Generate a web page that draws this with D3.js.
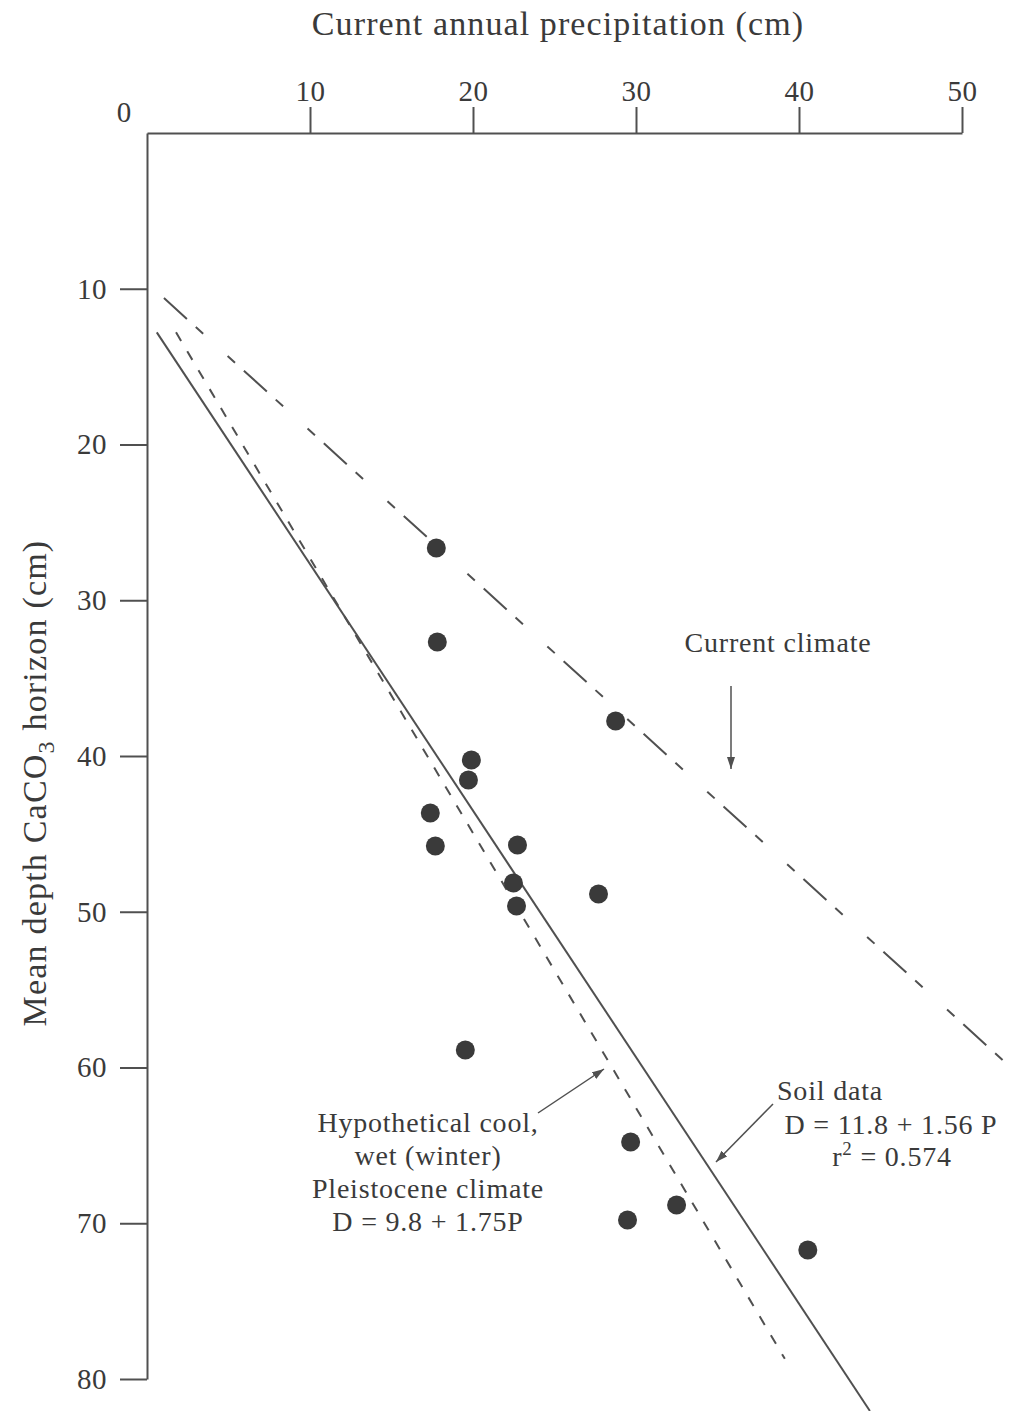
<!DOCTYPE html>
<html>
<head>
<meta charset="utf-8">
<script src="https://cdn.jsdelivr.net/npm/d3@7"></script>
<style>
  body { margin: 0; background: #fff; }
  svg text { font-family: "Liberation Serif", "DejaVu Serif", serif; fill: #3a3a3a; }
  .note { font-size: 28px; letter-spacing: 0.8px; }
</style>
</head>
<body>
<div id="chart"></div>
<script>
// soil sites: annual precipitation (cm) vs mean depth of CaCO3 horizon (cm)
const precip = [17.75, 17.81, 28.75, 19.9, 19.72, 17.38, 17.69, 22.73, 22.48, 22.67, 27.7, 19.53, 29.67, 29.48, 32.49, 40.54];
const depth  = [26.65, 32.68, 37.75, 40.26, 41.54, 43.66, 45.78, 45.71, 48.15, 49.63, 48.86, 58.88, 64.78, 69.79, 68.83, 71.72];

// fitted lines, endpoints [P, D]
const soilLine = [[0.6, 12.8], [44.35, 82.05]];
const pleistoLine = [[1.78, 12.8], [39.13, 78.7]];
const currentLine = [[1.04, 10.6], [53.44, 60.42]];

const xTicks = [10, 20, 30, 40, 50];
const yTicks = [10, 20, 30, 40, 50, 60, 70, 80];

const width = 1019, height = 1411;
const ink = '#3a3a3a', lineInk = '#505050';

const svg = d3.select('#chart').append('svg')
  .attr('width', width)
  .attr('height', height);

const x = d3.scaleLinear().domain([0, 50]).range([147, 962]);
const y = d3.scaleLinear().domain([0, 80]).range([133, 1379]);

svg.append('defs').append('marker')
  .attr('id', 'arrow')
  .attr('viewBox', '0 0 12 8')
  .attr('refX', 12).attr('refY', 4)
  .attr('markerWidth', 12).attr('markerHeight', 8)
  .attr('markerUnits', 'userSpaceOnUse')
  .attr('orient', 'auto')
  .append('path')
  .attr('d', 'M0,0 L12,4 L0,8 Z')
  .attr('fill', lineInk);

// axes
const xAxis = svg.append('g')
  .attr('transform', `translate(0,${y(0)})`)
  .call(d3.axisTop(x).tickValues(xTicks).tickSize(26).tickSizeOuter(0).tickPadding(6));

const yAxis = svg.append('g')
  .attr('transform', `translate(${x(0)},0)`)
  .call(d3.axisLeft(y).tickValues(yTicks).tickSize(27).tickSizeOuter(0).tickPadding(13));

[xAxis, yAxis].forEach(a => {
  a.selectAll('path, line').attr('stroke', lineInk).attr('stroke-width', 2);
  a.selectAll('text')
    .attr('font-size', 29)
    .attr('letter-spacing', 0.5)
    .attr('font-family', '"Liberation Serif", serif')
    .attr('fill', ink);
});

svg.append('text')
  .attr('x', x(0) - 23).attr('y', 122)
  .attr('text-anchor', 'middle')
  .attr('font-size', 29)
  .text('0');

// axis titles
svg.append('text')
  .attr('x', 558).attr('y', 35)
  .attr('text-anchor', 'middle')
  .attr('font-size', 34)
  .attr('letter-spacing', 1.1)
  .text('Current annual precipitation (cm)');

const yTitle = svg.append('text')
  .attr('transform', 'translate(46,783) rotate(-90)')
  .attr('text-anchor', 'middle')
  .attr('font-size', 34)
  .attr('letter-spacing', 1.2);
yTitle.append('tspan').text('Mean depth CaCO');
yTitle.append('tspan').attr('font-size', 24).attr('dy', 8).text('3');
yTitle.append('tspan').attr('dy', -8).text(' horizon (cm)');

// fitted lines
const line = d3.line().x(d => x(d[0])).y(d => y(d[1]));

svg.append('path').datum(currentLine)
  .attr('d', line)
  .attr('fill', 'none').attr('stroke', lineInk).attr('stroke-width', 2)
  .attr('stroke-dasharray', '31,12,10,33,10,12');

svg.append('path').datum(pleistoLine)
  .attr('d', line)
  .attr('fill', 'none').attr('stroke', lineInk).attr('stroke-width', 2)
  .attr('stroke-dasharray', '10,12');

svg.append('path').datum(soilLine)
  .attr('d', line)
  .attr('fill', 'none').attr('stroke', lineInk).attr('stroke-width', 2);

// points
svg.append('g').selectAll('circle')
  .data(precip.map((p, i) => [p, depth[i]]))
  .join('circle')
  .attr('cx', d => x(d[0]))
  .attr('cy', d => y(d[1]))
  .attr('r', 9.5)
  .attr('fill', ink);

// annotations
svg.append('text').attr('class', 'note')
  .attr('x', 778).attr('y', 652)
  .attr('text-anchor', 'middle')
  .text('Current climate');

svg.append('line')
  .attr('x1', 731).attr('y1', 686).attr('x2', 731).attr('y2', 769)
  .attr('stroke', lineInk).attr('stroke-width', 1.5)
  .attr('marker-end', 'url(#arrow)');

const pleistoText = ['Hypothetical cool,', 'wet (winter)', 'Pleistocene climate', 'D = 9.8 + 1.75P'];
svg.append('g').selectAll('text')
  .data(pleistoText)
  .join('text').attr('class', 'note')
  .attr('x', 428)
  .attr('y', (d, i) => 1132 + i * 33)
  .attr('text-anchor', 'middle')
  .text(d => d);

svg.append('line')
  .attr('x1', 538).attr('y1', 1113).attr('x2', 604).attr('y2', 1069)
  .attr('stroke', lineInk).attr('stroke-width', 1.5)
  .attr('marker-end', 'url(#arrow)');

svg.append('text').attr('class', 'note')
  .attr('x', 777).attr('y', 1100)
  .text('Soil data');

svg.append('text').attr('class', 'note')
  .attr('x', 891).attr('y', 1134)
  .attr('text-anchor', 'middle')
  .text('D = 11.8 + 1.56 P');

const r2 = svg.append('text').attr('class', 'note')
  .attr('x', 892).attr('y', 1166)
  .attr('text-anchor', 'middle');
r2.append('tspan').text('r');
r2.append('tspan').attr('font-size', 19).attr('dy', -11).text('2');
r2.append('tspan').attr('dy', 11).text(' = 0.574');

svg.append('line')
  .attr('x1', 773).attr('y1', 1104).attr('x2', 716).attr('y2', 1162)
  .attr('stroke', lineInk).attr('stroke-width', 1.5)
  .attr('marker-end', 'url(#arrow)');
</script>
</body>
</html>
